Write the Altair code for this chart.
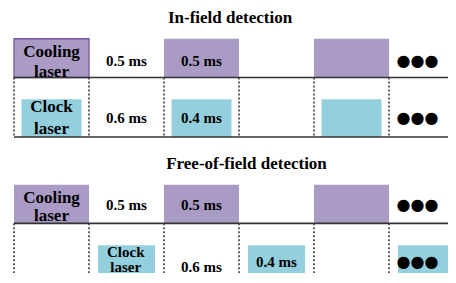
import altair as alt
import pandas as pd

# ---- data (times in ms) ----
titles = ["In-field detection", "Free-of-field detection"]
cooling_start = [0.0, 1.0, 2.0]
cooling_len = 0.5
clock_start_in = [0.05, 1.05, 2.05]
clock_len_in = 0.4
clock_start_free = [0.56, 1.56, 2.56]
clock_len_free = 0.38
dividers = [0.0, 0.5, 1.0, 1.5, 2.0, 2.5]
in_cool_labels = ["0.5 ms", "0.5 ms"]
in_cool_label_t = [0.75, 1.25]
in_clock_labels = ["0.6 ms", "0.4 ms"]
in_clock_label_t = [0.75, 1.25]
free_cool_labels = ["0.5 ms", "0.5 ms"]
free_cool_label_t = [0.75, 1.25]
free_clock_labels = ["0.6 ms", "0.4 ms"]
free_clock_label_t = [1.25, 1.75]
dots_t = 2.69
title_t = [1.44, 1.55]
end_t = 3.2

PURPLE = "#A99BC4"
PURPLE_EDGE = "#7A55A0"
CYAN = "#93CFDD"
FONT = "Liberation Serif, Times New Roman, serif"

W, H = 440, 267

# ---- layout rows (vertical positions in px from top of plot) ----
P1 = dict(title=10, c0=31, c1=70, k0=92, k1=130, bot=130,
          cool_txt=(44, 64), cool_lbl=53, clock_txt=(100, 122), clock_lbl=111)
P2 = dict(title=157, c0=178, c1=217, k0=239, k1=300,
          cool_txt=(191, 210), cool_lbl=198, clock_txt=(246, 261), clock_lbl=(261, 256))

rects = []
for s in cooling_start:
    rects.append(dict(x=s, x2=s + cooling_len, y=P1["c0"], y2=P1["c1"], fill=PURPLE))
    rects.append(dict(x=s, x2=s + cooling_len, y=P2["c0"], y2=P2["c1"], fill=PURPLE))
for s in clock_start_in:
    rects.append(dict(x=s, x2=s + clock_len_in, y=P1["k0"], y2=P1["k1"], fill=CYAN))
for i, s in enumerate(clock_start_free):
    e = s + clock_len_free if i < 2 else end_t
    rects.append(dict(x=s, x2=e, y=P2["k0"], y2=P2["k1"], fill=CYAN))
rect_df = pd.DataFrame(rects)

xs = alt.Scale(domain=[-0.04, W / 150 - 0.04], nice=False, zero=False)
ys = alt.Scale(domain=[0, H], reverse=True, nice=False, zero=False)

def X(f="x"):
    return alt.X(f"{f}:Q", scale=xs, axis=None)

def Y(f="y"):
    return alt.Y(f"{f}:Q", scale=ys, axis=None)

rect_layer = alt.Chart(rect_df).mark_rect(clip=True).encode(
    x=X(), x2="x2:Q", y=Y(), y2="y2:Q",
    color=alt.Color("fill:N", scale=None))

edge_df = pd.DataFrame([dict(x=cooling_start[0], x2=cooling_start[0] + cooling_len,
                             y=P1["c0"], y2=P1["c1"])])
edge_layer = alt.Chart(edge_df).mark_rect(fill=PURPLE, stroke=PURPLE_EDGE, strokeWidth=1.3).encode(
    x=X(), x2="x2:Q", y=Y(), y2="y2:Q")

# baselines
base_df = pd.DataFrame([
    dict(x=0.0, x2=end_t, y=P1["c1"]),
    dict(x=0.0, x2=end_t, y=P1["bot"]),
    dict(x=0.0, x2=end_t, y=P2["c1"]),
])
base_layer = alt.Chart(base_df).mark_rule(color="#333333", strokeWidth=1.6, clip=True).encode(
    x=X(), x2="x2:Q", y=Y())

# dotted dividers
div = []
for d in dividers:
    div.append(dict(x=d, y=P1["c1"], y2=P1["bot"]))
    div.append(dict(x=d, y=P2["c1"], y2=300))
div_df = pd.DataFrame(div)
div_layer = alt.Chart(div_df).mark_rule(color="#222222", strokeWidth=1.4, strokeDash=[2, 2], clip=True).encode(
    x=X(), y=Y(), y2="y2:Q")

# titles
title_df = pd.DataFrame([dict(x=title_t[0], y=P1["title"], t=titles[0]),
                         dict(x=title_t[1], y=P2["title"], t=titles[1])])
title_layer = alt.Chart(title_df).mark_text(font=FONT, fontWeight="bold", fontSize=17,
                                            baseline="middle", color="black").encode(
    x=X(), y=Y(), text="t:N")

# laser names
name_rows = []
for word, yy in zip(["Cooling", "laser"], P1["cool_txt"]):
    name_rows.append(dict(x=0.25, y=yy, t=word))
for word, yy in zip(["Clock", "laser"], P1["clock_txt"]):
    name_rows.append(dict(x=0.25, y=yy, t=word))
for word, yy in zip(["Cooling", "laser"], P2["cool_txt"]):
    name_rows.append(dict(x=0.25, y=yy, t=word))
name_df = pd.DataFrame(name_rows)
name_layer = alt.Chart(name_df).mark_text(font=FONT, fontWeight="bold", fontSize=17,
                                          baseline="middle", color="black").encode(
    x=X(), y=Y(), text="t:N")

# clock name in the lower panel (cut at the bottom edge in the reference)
name2_df = pd.DataFrame([dict(x=0.745, y=P2["clock_txt"][0], t="Clock"),
                         dict(x=0.745, y=P2["clock_txt"][1], t="laser")])
name2_layer = alt.Chart(name2_df).mark_text(font=FONT, fontWeight="bold", fontSize=15,
                                            baseline="middle", color="black").encode(
    x=X(), y=Y(), text="t:N")

# duration labels
lab = []
for t, s in zip(in_cool_label_t, in_cool_labels):
    lab.append(dict(x=t, y=P1["cool_lbl"], t=s))
for t, s in zip(in_clock_label_t, in_clock_labels):
    lab.append(dict(x=t, y=P1["clock_lbl"], t=s))
for t, s in zip(free_cool_label_t, free_cool_labels):
    lab.append(dict(x=t, y=P2["cool_lbl"], t=s))
for t, s, yy in zip(free_clock_label_t, free_clock_labels, P2["clock_lbl"]):
    lab.append(dict(x=t, y=yy, t=s))
lab_df = pd.DataFrame(lab)
lab_layer = alt.Chart(lab_df).mark_text(font=FONT, fontWeight="bold", fontSize=15,
                                        baseline="middle", color="black").encode(
    x=X(), y=Y(), text="t:N")

# continuation dots
dots_df = pd.DataFrame([dict(x=dots_t, y=53, t="●●●"), dict(x=dots_t, y=111, t="●●●"),
                        dict(x=dots_t, y=198, t="●●●"), dict(x=dots_t, y=256, t="●●●")])
dots_layer = alt.Chart(dots_df).mark_text(font="DejaVu Sans", fontSize=16, baseline="middle",
                                          color="black").encode(
    x=X(), y=Y(), text="t:N")

chart = alt.layer(rect_layer, edge_layer, div_layer, base_layer, title_layer,
                  name_layer, name2_layer, lab_layer, dots_layer).properties(
    width=W, height=H,
    autosize=alt.AutoSizeParams(type="fit", contains="padding"),
    padding=0,
).configure_view(stroke=None)

chart.save("out.html", embed_options={"renderer": "svg", "actions": False})
